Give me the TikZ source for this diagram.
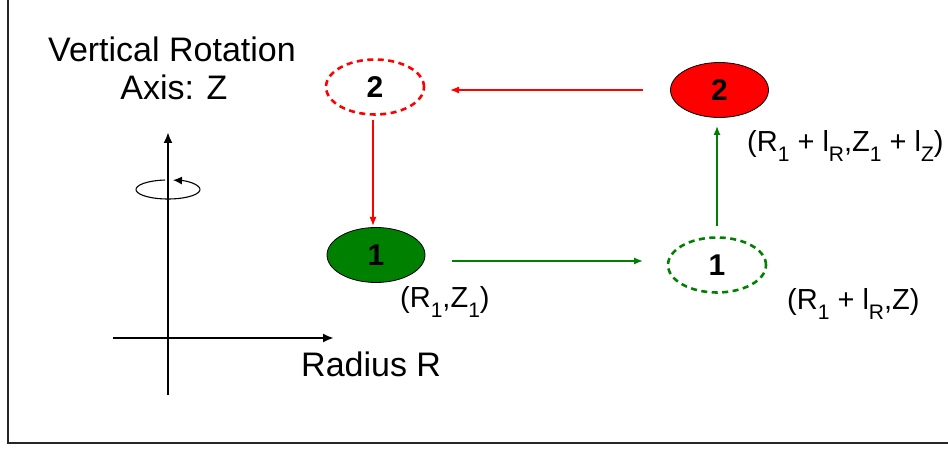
\documentclass[tikz,border=0pt]{standalone}
\usepackage{fontspec}
\setmainfont{Liberation Sans}
\usetikzlibrary{arrows.meta,shapes.geometric,calc}
\definecolor{dkgreen}{RGB}{0,128,0}
\definecolor{brred}{RGB}{255,0,0}
\newcommand\lsub[1]{\raisebox{-10pt}{\fontsize{21}{21}\selectfont #1}}
\begin{document}
\begin{tikzpicture}[x=1pt,y=1pt,
  ell/.style={ellipse, minimum width=98pt, minimum height=55pt, inner sep=0pt,
    font=\fontsize{30}{30}\selectfont\bfseries},
  filledell/.style={ell, draw=black, line width=0.8pt},
  dashell/.style={ell, line width=2.6pt, dash pattern=on 6pt off 4.5pt},
  conn/.style={line width=1.3pt, -{Latex[length=9pt,width=7pt]}},
  axis/.style={line width=2.8pt, -{Latex[length=11pt,width=9pt]}},
  bigtxt/.style={font=\fontsize{34}{34}\selectfont, inner sep=0pt},
  coord/.style={font=\fontsize{29}{29}\selectfont, inner sep=0pt, anchor=base west}]
\useasboundingbox (0,0) rectangle (948,449);
% frame
\draw[line width=2pt, black!85] (8,449) -- (8,6) -- (948,6);
% title
\node[bigtxt, anchor=base] (t1) at (172,387) {Vertical Rotation};
\node[bigtxt, anchor=base] (t2) at (174,349) {Axis: Z};
% axes
\coordinate (vb) at (168,54);
\coordinate (vt) at (168,317);
\coordinate (hl) at (113,111);
\coordinate (hr) at (334,111);
\draw[axis] (vb) -- (vt);
\draw[axis] (hl) -- (hr);
\node[bigtxt, anchor=base west] (rr) at (301,72) {Radius R};
% rotation ellipse
\coordinate (rc) at (168,259.5);
\draw[line width=1.1pt, -{Latex[length=9pt,width=8pt]}]
  ($(rc)+(95:32pt and 9.5pt)$) arc[start angle=95, end angle=441, x radius=32pt, y radius=9.5pt];
% nodes
\node[dashell, draw=brred] (r2d) at (375,362) {2};
\node[filledell, fill=brred] (r2) at (719.5,359) {2};
\node[filledell, fill=dkgreen] (g1) at (376,194) {1};
\node[dashell, draw=dkgreen] (g1d) at (717,184) {1};
% connectors
\coordinate (ra) at (643,359);
\coordinate (rb) at (450,359);
\draw[conn, brred] (ra) -- (rb);
\coordinate (rc1) at (373,329);
\coordinate (rc2) at (373,223);
\draw[conn, brred] (rc1) -- (rc2);
\coordinate (ga) at (452,188);
\coordinate (gb) at (643,188);
\draw[conn, dkgreen] (ga) -- (gb);
\coordinate (gc) at (717,223);
\coordinate (gd) at (717,323);
\draw[conn, dkgreen] (gc) -- (gd);
% labels
\node[coord] (l1) at (400,141) {(R\lsub{1},Z\lsub{1})};
\node[coord] (l2) at (747,297) {(R\lsub{1} + l\lsub{R},Z\lsub{1} + l\lsub{Z})};
\node[coord] (l3) at (787,139) {(R\lsub{1} + l\lsub{R},Z)};
\end{tikzpicture}
\end{document}
